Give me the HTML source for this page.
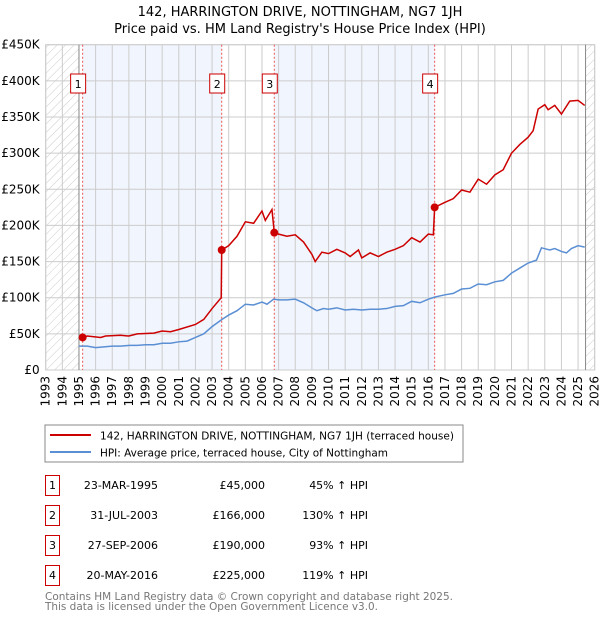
<!DOCTYPE html>
<html><head><meta charset="utf-8"><style>
body{margin:0;background:#fff;font-family:"DejaVu Sans","Liberation Sans",sans-serif;}
svg text{font-family:"DejaVu Sans","Liberation Sans",sans-serif;}
</style></head><body>
<svg id="c" width="600" height="620" xmlns="http://www.w3.org/2000/svg">
<defs><pattern id="hatch" width="6" height="6" patternUnits="userSpaceOnUse" patternTransform="rotate(45)"><line x1="0" y1="0" x2="0" y2="6" stroke="#ccc" stroke-width="1"/></pattern></defs>
<text x="300" y="16" font-size="13" text-anchor="middle">142, HARRINGTON DRIVE, NOTTINGHAM, NG7 1JH</text>
<text x="300" y="33" font-size="13" text-anchor="middle">Price paid vs. HM Land Registry's House Price Index (HPI)</text>
<g id="plot"></g>
<rect x="45" y="425" width="418" height="37" fill="#fff" stroke="#888"/>
<line x1="50" y1="435" x2="91" y2="435" stroke="#cc0000" stroke-width="2"/>
<text x="100" y="439.5" font-size="10.6" textLength="354" lengthAdjust="spacingAndGlyphs">142, HARRINGTON DRIVE, NOTTINGHAM, NG7 1JH (terraced house)</text>
<line x1="50" y1="452" x2="91" y2="452" stroke="#5b8fd4" stroke-width="2"/>
<text x="100" y="456.5" font-size="10.6" textLength="288" lengthAdjust="spacingAndGlyphs">HPI: Average price, terraced house, City of Nottingham</text>
<g id="table"></g>
<text x="45" y="600" font-size="10.5" fill="#777" textLength="408" lengthAdjust="spacingAndGlyphs">Contains HM Land Registry data © Crown copyright and database right 2025.</text>
<text x="45" y="610" font-size="10.5" fill="#777" textLength="333" lengthAdjust="spacingAndGlyphs">This data is licensed under the Open Government Licence v3.0.</text>
</svg>
<script>
const yTicks=[0,50000,100000,150000,200000,250000,300000,350000,400000,450000];
const yTickLabels=["£0","£50K","£100K","£150K","£200K","£250K","£300K","£350K","£400K","£450K"];
const years=[1993,1994,1995,1996,1997,1998,1999,2000,2001,2002,2003,2004,2005,2006,2007,2008,2009,2010,2011,2012,2013,2014,2015,2016,2017,2018,2019,2020,2021,2022,2023,2024,2025,2026];
const hpiDates=[1995.0,1995.5,1996.0,1996.5,1997.0,1997.5,1998.0,1998.5,1999.0,1999.5,2000.0,2000.5,2001.0,2001.5,2002.0,2002.5,2003.0,2003.6,2004.0,2004.5,2005.0,2005.5,2006.0,2006.3,2006.7,2007.0,2007.5,2008.0,2008.5,2009.0,2009.3,2009.7,2010.0,2010.5,2011.0,2011.5,2012.0,2012.5,2013.0,2013.5,2014.0,2014.5,2015.0,2015.5,2016.0,2016.4,2017.0,2017.5,2018.0,2018.5,2019.0,2019.5,2020.0,2020.5,2021.0,2021.5,2022.0,2022.5,2022.8,2023.3,2023.6,2024.0,2024.3,2024.6,2025.0,2025.4];
const hpiValues=[33000,33000,31000,32000,33000,33000,34000,34000,35000,35000,37000,37000,39000,40000,45000,50000,60000,70000,76000,82000,91000,90000,94000,91000,98000,97000,97000,98000,93000,86000,82000,85000,84000,86000,83000,84000,83000,84000,84000,85000,88000,89000,95000,93000,98000,101000,104000,106000,112000,113000,119000,118000,122000,124000,134000,141000,148000,152000,169000,166000,168000,164000,162000,168000,172000,170000];
const saleDates=[1995.22,2003.58,2006.74,2016.38];
const salePrices=[45000,166000,190000,225000];
const saleLabels=["1","2","3","4"];
const saleDateText=["23-MAR-1995","31-JUL-2003","27-SEP-2006","20-MAY-2016"];
const salePriceText=["£45,000","£166,000","£190,000","£225,000"];
const saleHpiText=["45% ↑ HPI","130% ↑ HPI","93% ↑ HPI","119% ↑ HPI"];
const propDates=[1995.22,1995.5,1996.3,1996.6,1997.5,1998.0,1998.5,1999.5,2000.0,2000.5,2001.0,2002.0,2002.5,2003.0,2003.55,2003.58,2004.0,2004.5,2005.0,2005.5,2006.0,2006.2,2006.6,2006.74,2007.0,2007.5,2008.0,2008.5,2009.0,2009.2,2009.6,2010.0,2010.5,2011.0,2011.3,2011.8,2012.0,2012.5,2013.0,2013.5,2014.0,2014.5,2015.0,2015.5,2016.0,2016.3,2016.38,2017.0,2017.5,2018.0,2018.5,2019.0,2019.5,2020.0,2020.5,2021.0,2021.5,2022.0,2022.3,2022.6,2023.0,2023.2,2023.6,2024.0,2024.5,2025.0,2025.4];
const propValues=[45000,47000,45000,47000,48000,47000,50000,51000,54000,53000,56000,63000,70000,85000,100000,166000,172000,185000,205000,203000,220000,207000,222000,190000,188000,185000,187000,177000,160000,150000,163000,161000,167000,162000,157000,166000,155000,162000,157000,163000,167000,172000,183000,177000,188000,187000,225000,232000,237000,249000,246000,264000,257000,270000,277000,300000,312000,322000,331000,361000,367000,360000,366000,354000,372000,373000,366000];

const NS="http://www.w3.org/2000/svg";
const X0=45.7,X1=594.7,Y0=370,Y1=44.7;
const xs=d=>X0+(d-1993)/(2026-1993)*(X1-X0);
const ys=v=>Y0-v/450000*(Y0-Y1);
const plot=document.getElementById('plot');
function mk(tag,attrs,parent){const e=document.createElementNS(NS,tag);for(const k in attrs)e.setAttribute(k,attrs[k]);(parent||plot).appendChild(e);return e;}

let r=mk('rect',{x:X0,y:Y1,width:X1-X0,height:Y0-Y1,fill:'#fff',stroke:'#ccc'});


const bands=[[saleDates[0],saleDates[1]],[saleDates[2],saleDates[3]]];
bands.forEach(b=>{const e=mk('rect',{x:xs(b[0]),y:Y1,width:xs(b[1])-xs(b[0]),height:Y0-Y1,fill:'#eef3fc',opacity:0.8});

});
let h1=mk('rect',{x:X0,y:Y1,width:xs(1995)-X0,height:Y0-Y1,fill:'url(#hatch)'});


let h2=mk('rect',{x:xs(2025.45),y:Y1,width:X1-xs(2025.45),height:Y0-Y1,fill:'url(#hatch)'});


years.forEach(y=>{const l=mk('line',{x1:xs(y),x2:xs(y),y1:Y1,y2:Y0,stroke:'#ccc'});


const t=mk('text',{x:0,y:0,'font-size':12,'text-anchor':'end',transform:`translate(${xs(y)+4},${Y0+6}) rotate(-90)`});
t.textContent=y;

});
yTicks.forEach((v,i)=>{const l=mk('line',{x1:X0,x2:X1,y1:ys(v),y2:ys(v),stroke:'#ccc'});


const t=mk('text',{x:X0-6,y:ys(v)+4,'font-size':12,'text-anchor':'end'});
t.textContent=yTickLabels[i];

});
[xs(1995),xs(2025.45)].forEach(x=>{const l=mk('line',{x1:x,x2:x,y1:Y1,y2:Y0,stroke:'#888'});

});
saleDates.forEach((d,i)=>{const l=mk('line',{x1:xs(d),x2:xs(d),y1:Y1,y2:Y0,stroke:'#e55','stroke-dasharray':'2,2'});

});
let hp=mk('polyline',{points:hpiDates.map((d,i)=>xs(d)+','+ys(hpiValues[i])).join(' '),fill:'none',stroke:'#5b8fd4','stroke-width':1.5});


let pp=mk('polyline',{points:propDates.map((d,i)=>xs(d)+','+ys(propValues[i])).join(' '),fill:'none',stroke:'#cc0000','stroke-width':1.5});


saleDates.forEach((d,i)=>{const c=mk('circle',{cx:xs(d),cy:ys(salePrices[i]),r:4,fill:'#cc0000'});


const bx=mk('rect',{x:xs(d)-12,y:74,width:15,height:19,fill:'#fff',stroke:'#cc0000'});


const t=mk('text',{x:xs(d)-4.5,y:88,'font-size':11,'text-anchor':'middle'});
t.textContent=saleLabels[i];

});
const tbl=document.getElementById('table');
saleLabels.forEach((s,i)=>{const y0=475+i*30;
const b=mk('rect',{x:45.5,y:y0+0.5,width:14,height:20,fill:'#fff',stroke:'#cc0000'},tbl);


const cols=[[52.5,'middle',s,'table-row-number'],[158,'end',saleDateText[i],'table-date'],[265,'end',salePriceText[i],'table-price'],[368,'end',saleHpiText[i],'table-hpi-change']];
cols.forEach(c=>{const t=mk('text',{x:c[0],y:y0+14,'font-size':11,'text-anchor':c[1]},tbl);
t.textContent=c[2];

});});
</script>
</body></html>
